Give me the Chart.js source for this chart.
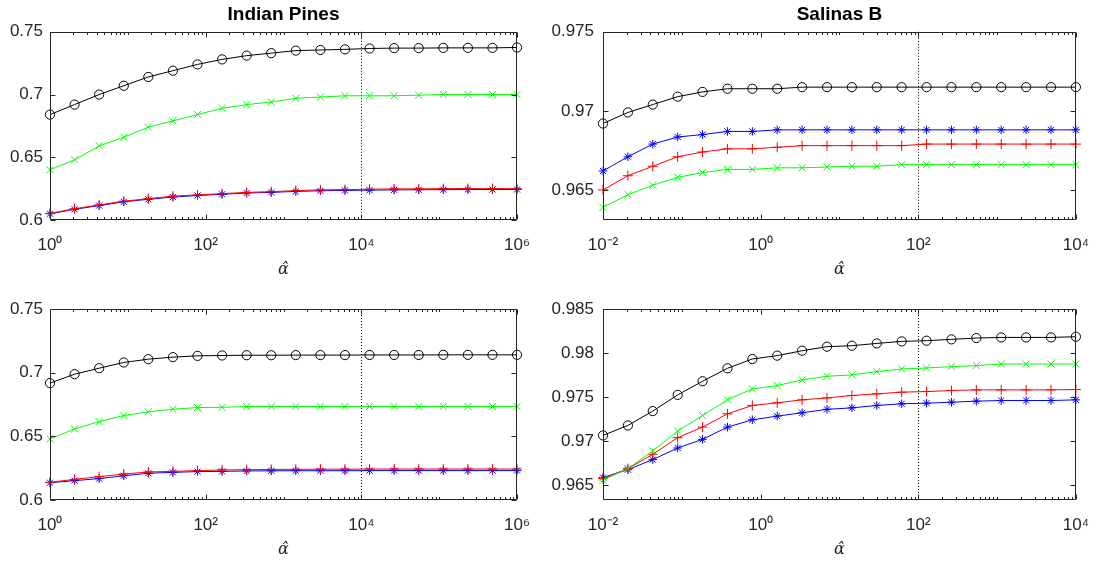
<!DOCTYPE html>
<html>
<head>
<meta charset="utf-8">
<script src="https://cdn.jsdelivr.net/npm/chart.js@4"></script>
<style>
  html, body { margin: 0; padding: 0; background: #fff; }
  body { width: 1104px; height: 561px; position: relative; overflow: hidden; }
  canvas { position: absolute; }
</style>
</head>
<body>
<canvas id="pines-top" width="545" height="280" style="left:0;top:0"></canvas>
<canvas id="salinas-top" width="559" height="280" style="left:545px;top:0"></canvas>
<canvas id="pines-bottom" width="545" height="280" style="left:0;top:280px"></canvas>
<canvas id="salinas-bottom" width="559" height="280" style="left:545px;top:280px"></canvas>
<script>
// alpha-hat sweep: 20 log-spaced settings per data set
const alphaPines = [1, 2.069, 4.281, 8.859, 18.33, 37.93, 78.48, 162.4, 336.0, 695.2,
  1438, 2976, 6158, 12743, 26367, 54556, 112884, 233572, 483293, 1000000];
const alphaSalinas = [0.01, 0.02069, 0.04281, 0.08859, 0.1833, 0.3793, 0.7848, 1.624, 3.360, 6.952,
  14.38, 29.76, 61.58, 127.4, 263.7, 545.6, 1129, 2336, 4833, 10000];

// Indian Pines, upper panel
const pinesTopO = [0.684, 0.692, 0.700, 0.707, 0.714, 0.719, 0.724, 0.728, 0.731, 0.733,
  0.735, 0.7355, 0.736, 0.7367, 0.737, 0.737, 0.7372, 0.7372, 0.7372, 0.7375];
const pinesTopX = [0.640, 0.648, 0.659, 0.666, 0.674, 0.679, 0.684, 0.689, 0.692, 0.694,
  0.697, 0.698, 0.699, 0.699, 0.699, 0.6995, 0.700, 0.700, 0.700, 0.700];
const pinesTopPlus = [0.6053, 0.609, 0.612, 0.615, 0.617, 0.619, 0.620, 0.621, 0.622, 0.6226,
  0.6234, 0.624, 0.6242, 0.6245, 0.6248, 0.6248, 0.625, 0.625, 0.625, 0.625];
const pinesTopStar = [0.605, 0.6085, 0.6115, 0.6145, 0.6165, 0.6183, 0.6195, 0.6205, 0.6215, 0.622,
  0.6228, 0.6233, 0.6236, 0.6238, 0.624, 0.6241, 0.6242, 0.6243, 0.6243, 0.6243];

// Salinas B, upper panel
const salinasTopO = [0.9692, 0.9699, 0.9704, 0.9709, 0.9712, 0.9714, 0.9714, 0.9714, 0.9715, 0.9715,
  0.9715, 0.9715, 0.9715, 0.9715, 0.9715, 0.9715, 0.9715, 0.9715, 0.9715, 0.9715];
const salinasTopX = [0.9639, 0.9647, 0.9653, 0.9658, 0.9661, 0.9663, 0.9663, 0.9664, 0.9664, 0.96645,
  0.9665, 0.9665, 0.9666, 0.9666, 0.9666, 0.9666, 0.9666, 0.9666, 0.9666, 0.9666];
const salinasTopPlus = [0.9650, 0.9659, 0.9665, 0.9671, 0.9674, 0.9676, 0.9676, 0.9677, 0.9678, 0.9678,
  0.9678, 0.9678, 0.9678, 0.9679, 0.9679, 0.9679, 0.9679, 0.9679, 0.9679, 0.9679];
const salinasTopStar = [0.9662, 0.9671, 0.9679, 0.96835, 0.9685, 0.9687, 0.9687, 0.9688, 0.9688, 0.9688,
  0.9688, 0.9688, 0.9688, 0.9688, 0.9688, 0.9688, 0.9688, 0.9688, 0.9688, 0.9688];

// Indian Pines, lower panel
const pinesBottomO = [0.6918, 0.6988, 0.7035, 0.708, 0.7106, 0.7122, 0.7132, 0.7135, 0.7137, 0.7137,
  0.7138, 0.7138, 0.7138, 0.7139, 0.7139, 0.7139, 0.714, 0.714, 0.714, 0.714];
const pinesBottomX = [0.648, 0.6558, 0.6616, 0.6663, 0.6692, 0.6713, 0.6726, 0.6728, 0.6734, 0.6734,
  0.6734, 0.6734, 0.6734, 0.6734, 0.6734, 0.6734, 0.6734, 0.6734, 0.6734, 0.6734];
const pinesBottomPlus = [0.6139, 0.6162, 0.6183, 0.6204, 0.622, 0.6225, 0.6231, 0.6236, 0.6238, 0.624,
  0.6241, 0.6242, 0.6242, 0.6243, 0.6243, 0.6243, 0.6243, 0.6243, 0.6243, 0.6243];
const pinesBottomStar = [0.6136, 0.6152, 0.6168, 0.619, 0.621, 0.6217, 0.6223, 0.6225, 0.6228, 0.6229,
  0.623, 0.623, 0.623, 0.6231, 0.6231, 0.6231, 0.6231, 0.6231, 0.6231, 0.6231];

// Salinas B, lower panel
const salinasBottomO = [0.97064, 0.97177, 0.9734, 0.97524, 0.97679, 0.97826, 0.97932, 0.9797, 0.98026, 0.98072,
  0.98083, 0.98109, 0.98132, 0.9814, 0.98155, 0.9817, 0.98177, 0.98177, 0.98177, 0.98185];
const salinasBottomX = [0.96555, 0.96687, 0.96887, 0.97113, 0.9729, 0.97468, 0.97592, 0.9763, 0.97694, 0.97736,
  0.97751, 0.97789, 0.97819, 0.9783, 0.97845, 0.97857, 0.97875, 0.97875, 0.97875, 0.97875];
const salinasBottomPlus = [0.96573, 0.96687, 0.96849, 0.97038, 0.97158, 0.97309, 0.97404, 0.97434, 0.97468, 0.9749,
  0.97517, 0.97536, 0.97555, 0.97562, 0.97574, 0.97581, 0.97581, 0.97581, 0.97581, 0.97585];
const salinasBottomStar = [0.96585, 0.96675, 0.96789, 0.96921, 0.97019, 0.97158, 0.97241, 0.97283, 0.97321, 0.9736,
  0.97377, 0.97404, 0.97423, 0.9743, 0.97441, 0.97453, 0.9746, 0.9746, 0.9746, 0.97468];

// tick labels
const pinesXTicks = [1, 1e2, 1e4, 1e6];
const salinasXTicks = [1e-2, 1, 1e2, 1e4];
const pinesYTicks = [0.6, 0.65, 0.7, 0.75];
const salinasTopYTicks = [0.965, 0.97, 0.975];
const salinasBottomYTicks = [0.965, 0.97, 0.975, 0.98, 0.985];

// chosen alpha-hat (dotted line)
const pinesRefAlpha = 1e4;
const salinasRefAlpha = 1e2;

Chart.defaults.font.family = "'Liberation Sans', Arial, sans-serif";
Chart.defaults.color = '#262626';

const AXIS_COLOR = '#262626';
const sup = { '-': '\u207B', '0': '\u2070', '1': '\u00B9', '2': '\u00B2', '3': '\u00B3',
  '4': '\u2074', '5': '\u2075', '6': '\u2076', '7': '\u2077', '8': '\u2078', '9': '\u2079' };

function powerLabel(v) {
  const e = String(Math.round(Math.log10(v)));
  return '10' + e.split('').map(c => sup[c]).join('');
}

function series(xs, ys) {
  return xs.map((x, i) => ({ x: x, y: ys[i] }));
}

// box, inward tick marks and the dotted alpha line
const axesFrame = {
  id: 'axesFrame',
  beforeDatasetsDraw(chart, args, opts) {
    const { ctx, chartArea: a } = chart;
    const px = Math.round(chart.scales.x.getPixelForValue(opts.refAlpha)) + 0.5;
    ctx.save();
    ctx.strokeStyle = '#000';
    ctx.lineWidth = 1;
    ctx.setLineDash([1, 2]);
    ctx.beginPath();
    ctx.moveTo(px, a.top);
    ctx.lineTo(px, a.bottom);
    ctx.stroke();
    ctx.restore();
  },
  afterDraw(chart) {
    const { ctx, chartArea: a, scales: { x, y } } = chart;
    const l = Math.round(a.left) + 0.5, r = Math.round(a.right) - 0.5;
    const t = Math.round(a.top) + 0.5, b = Math.round(a.bottom) - 0.5;
    ctx.save();
    ctx.strokeStyle = AXIS_COLOR;
    ctx.lineWidth = 1;
    ctx.beginPath();
    ctx.rect(l, t, r - l, b - t);
    x.ticks.forEach(tk => {
      const p = Math.round(x.getPixelForValue(tk.value)) + 0.5;
      ctx.moveTo(p, b); ctx.lineTo(p, b - 5);
      ctx.moveTo(p, t); ctx.lineTo(p, t + 5);
    });
    const lo = Math.floor(Math.log10(x.min)), hi = Math.ceil(Math.log10(x.max));
    for (let d = lo; d < hi; d++) {
      for (let k = 1; k < 10; k++) {
        const v = k * Math.pow(10, d);
        if (v < x.min || v > x.max) continue;
        if (x.ticks.some(tk => Math.abs(tk.value / v - 1) < 1e-9)) continue;
        const p = Math.round(x.getPixelForValue(v)) + 0.5;
        ctx.moveTo(p, b); ctx.lineTo(p, b - 2.5);
        ctx.moveTo(p, t); ctx.lineTo(p, t + 2.5);
      }
    }
    y.ticks.forEach(tk => {
      const p = Math.round(y.getPixelForValue(tk.value)) + 0.5;
      ctx.moveTo(l, p); ctx.lineTo(l + 5, p);
      ctx.moveTo(r, p); ctx.lineTo(r - 5, p);
    });
    ctx.stroke();
    ctx.restore();
  }
};

function makeChart(id, o) {
  const common = { borderWidth: 1, tension: 0, fill: false, clip: false, pointBorderWidth: 1 };
  return new Chart(document.getElementById(id), {
    type: 'line',
    data: {
      datasets: [
        Object.assign({ data: series(o.xs, o.circle), borderColor: '#000', pointBorderColor: '#000',
          pointBackgroundColor: 'rgba(0,0,0,0)', pointStyle: 'circle', pointRadius: 4.6 }, common),
        Object.assign({ data: series(o.xs, o.cross), borderColor: '#00ff00', pointBorderColor: '#00ff00',
          pointStyle: 'crossRot', pointRadius: 5 }, common),
        Object.assign({ data: series(o.xs, o.plus), borderColor: '#ff0000', pointBorderColor: '#ff0000',
          pointStyle: 'cross', pointRadius: 5 }, common),
        Object.assign({ data: series(o.xs, o.star), borderColor: '#0000ff', pointBorderColor: '#0000ff',
          pointStyle: 'star', pointRadius: 4.3 }, common),
      ],
    },
    options: {
      responsive: false,
      animation: false,
      events: [],
      layout: { padding: { left: 0, right: o.padRight, top: o.padTop, bottom: 0 } },
      plugins: {
        legend: { display: false },
        tooltip: { enabled: false },
        title: {
          display: !!o.title,
          text: o.title,
          fullSize: false,
          color: '#000',
          font: { size: 19, weight: 'bold' },
          padding: { top: 3, bottom: 6 },
        },
        axesFrame: { refAlpha: o.refAlpha },
      },
      scales: {
        x: {
          type: 'logarithmic',
          min: o.xTicks[0],
          max: o.xTicks[o.xTicks.length - 1],
          afterBuildTicks: s => { s.ticks = o.xTicks.map(v => ({ value: v })); },
          afterFit: s => { s.height = 60; },
          grid: { display: false, drawTicks: false },
          border: { display: false },
          ticks: { padding: 15, maxRotation: 0, autoSkip: false, font: { size: 17 }, callback: v => powerLabel(v) },
          title: {
            display: true,
            text: '\u03B1\u0302',
            color: '#262626',
            font: { family: "'DejaVu Serif', serif", style: 'italic', size: 16 },
            padding: { top: 0, bottom: 1 },
          },
        },
        y: {
          min: o.yMin,
          max: o.yMax,
          afterBuildTicks: s => { s.ticks = o.yTicks.map(v => ({ value: v })); },
          afterFit: s => { s.width = o.yWidth; },
          grid: { display: false, drawTicks: false },
          border: { display: false },
          ticks: { padding: o.yPad, autoSkip: false, font: { size: 17 }, callback: v => String(+v.toFixed(3)) },
        },
      },
    },
    plugins: [axesFrame],
  });
}

document.addEventListener('DOMContentLoaded', function() {
  makeChart('pines-top', {
    title: 'Indian Pines', xs: alphaPines, xTicks: pinesXTicks, refAlpha: pinesRefAlpha,
    circle: pinesTopO, cross: pinesTopX, plus: pinesTopPlus, star: pinesTopStar,
    yMin: 0.6, yMax: 0.75, yTicks: pinesYTicks, yWidth: 50, yPad: 7, padRight: 15, padTop: 0,
  });
  makeChart('salinas-top', {
    title: 'Salinas B', xs: alphaSalinas, xTicks: salinasXTicks, refAlpha: salinasRefAlpha,
    circle: salinasTopO, cross: salinasTopX, plus: salinasTopPlus, star: salinasTopStar,
    yMin: 0.9631, yMax: 0.975, yTicks: salinasTopYTicks, yWidth: 58, yPad: 9, padRight: 21, padTop: 0,
  });
  makeChart('pines-bottom', {
    title: '', xs: alphaPines, xTicks: pinesXTicks, refAlpha: pinesRefAlpha,
    circle: pinesBottomO, cross: pinesBottomX, plus: pinesBottomPlus, star: pinesBottomStar,
    yMin: 0.6, yMax: 0.75, yTicks: pinesYTicks, yWidth: 50, yPad: 7, padRight: 15, padTop: 29,
  });
  makeChart('salinas-bottom', {
    title: '', xs: alphaSalinas, xTicks: salinasXTicks, refAlpha: salinasRefAlpha,
    circle: salinasBottomO, cross: salinasBottomX, plus: salinasBottomPlus, star: salinasBottomStar,
    yMin: 0.9633, yMax: 0.985, yTicks: salinasBottomYTicks, yWidth: 58, yPad: 9, padRight: 21, padTop: 29,
  });
});
</script>
</body>
</html>
